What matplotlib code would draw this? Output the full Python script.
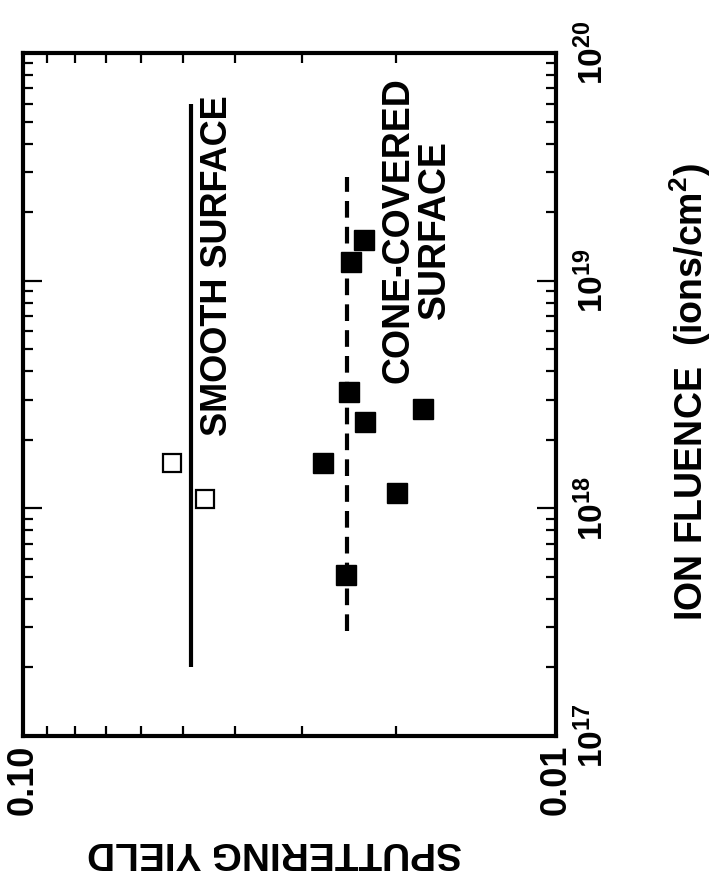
import matplotlib
matplotlib.use("Agg")
import matplotlib.pyplot as plt
from matplotlib.ticker import LogLocator, NullFormatter, FixedLocator, FixedFormatter

plt.rcParams['font.family'] = ['Liberation Sans', 'DejaVu Sans']
plt.rcParams['font.weight'] = 'bold'
plt.rcParams['mathtext.fontset'] = 'custom'
plt.rcParams['mathtext.rm'] = 'Liberation Sans:bold'
plt.rcParams['mathtext.it'] = 'Liberation Sans:bold'
plt.rcParams['mathtext.bf'] = 'Liberation Sans:bold'

# ---- data ----
cone_yield = [0.0245, 0.0228, 0.0178, 0.0274, 0.0199, 0.0248, 0.0242, 0.0229]
cone_fluence = [3.24e18, 2.39e18, 2.73e18, 1.58e18, 1.17e18, 5.1e17, 1.21e19, 1.51e19]

smooth_yield = [0.0525, 0.0456]
smooth_fluence = [1.58e18, 1.10e18]

smooth_line_yield = 0.0484
smooth_line_fluence = [2.0e17, 6.0e19]
cone_line_yield = 0.0247
cone_line_fluence = [2.9e17, 2.85e19]

yield_ticks = [0.10, 0.01]
yield_tick_labels = ['0.10', '0.01']
fluence_ticks = [1e17, 1e18, 1e19, 1e20]
fluence_tick_labels = [r'$10^{17}$', r'$10^{18}$', r'$10^{19}$', r'$10^{20}$']

# ---- figure ----
W, H = 716, 880
fig = plt.figure(figsize=(W / 100, H / 100), dpi=100)
L, R, T, B = 23, 556, 53, 736
ax = fig.add_axes([L / W, 1 - B / H, (R - L) / W, (B - T) / H])

ax.set_xscale('log')
ax.set_yscale('log')
ax.set_xlim(0.1, 0.01)
ax.set_ylim(1e17, 1e20)

# lines
ax.plot([smooth_line_yield, smooth_line_yield], smooth_line_fluence,
        color='black', lw=3, solid_capstyle='butt')
ax.plot([cone_line_yield, cone_line_yield], cone_line_fluence,
        color='black', lw=3, dashes=[4, 2.2])

# points
ax.plot(cone_yield, cone_fluence, 's', color='black', ms=14, mec='black')
ax.plot(smooth_yield, smooth_fluence, 's', mfc='white', mec='black', ms=12.5, mew=1.6)

# ticks
ax.xaxis.set_major_locator(FixedLocator(yield_ticks))
ax.xaxis.set_major_formatter(FixedFormatter(yield_tick_labels))
ax.xaxis.set_minor_locator(LogLocator(base=10, subs=range(2, 10)))
ax.xaxis.set_minor_formatter(NullFormatter())
ax.yaxis.set_major_locator(FixedLocator(fluence_ticks))
ax.yaxis.set_major_formatter(FixedFormatter(fluence_tick_labels))
ax.yaxis.set_minor_locator(LogLocator(base=10, subs=range(2, 10)))
ax.yaxis.set_minor_formatter(NullFormatter())

ax.tick_params(which='both', direction='in', top=True, bottom=True,
               left=True, right=True, labelleft=False, labelright=True,
               width=1.6, colors='black')
ax.tick_params(which='major', length=14)
ax.tick_params(which='minor', length=7)
ax.tick_params(axis='x', which='major', labelsize=26, pad=6)
ax.tick_params(axis='y', which='major', labelsize=24, pad=14)

for lab in ax.get_xticklabels():
    lab.set_rotation(90)
    lab.set_ha('center')
    lab.set_va('top')
    lab.set_fontweight('bold')
for lab in ax.get_yticklabels():
    lab.set_rotation(90)
    lab.set_ha('left')
    lab.set_va('center')
    lab.set_fontweight('bold')

for s in ax.spines.values():
    s.set_linewidth(3)

# axis labels
ax.set_xlabel('SPUTTERING YIELD', fontsize=28, fontweight='bold', rotation=180)
ax.xaxis.set_label_coords((275 - L) / (R - L), (B - 852) / (B - T))
ax.xaxis.label.set_ha('center')
ax.xaxis.label.set_va('center')

ax.yaxis.set_label_position('right')
ax.set_ylabel(r'ION FLUENCE  (ions/cm$^2$)', fontsize=27, fontweight='bold', rotation=90)
ax.yaxis.set_label_coords((690 - L) / (R - L), (B - 392) / (B - T))
ax.yaxis.label.set_rotation_mode('default')
ax.yaxis.label.set_ha('center')
ax.yaxis.label.set_va('center')

# annotations
ax.text((218 - L) / (R - L), (B - 266) / (B - T), 'SMOOTH SURFACE',
        transform=ax.transAxes, rotation=90, ha='center', va='center',
        fontsize=26, fontweight='bold')
ax.text((417 - L) / (R - L), (B - 230) / (B - T), 'CONE-COVERED\nSURFACE',
        transform=ax.transAxes, rotation=90, ha='center', va='center',
        multialignment='center', fontsize=27, fontweight='bold', linespacing=1.0)

fig.savefig('out.png', dpi=100, facecolor='white')
